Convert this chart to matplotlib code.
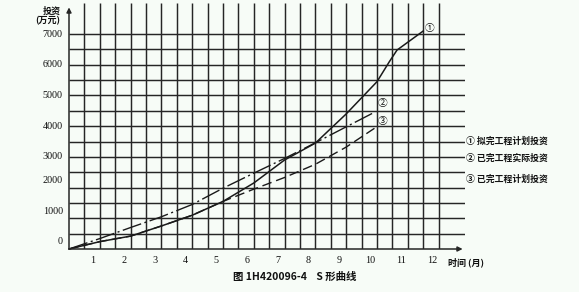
import numpy as np
import matplotlib
matplotlib.use("Agg")
import matplotlib.pyplot as plt

plt.rcParams['font.family'] = ['Noto Sans CJK SC', 'DejaVu Sans']

# ① 拟完工程计划投资
m1 = [0, 1, 2, 3, 4, 5, 6, 7, 8, 9, 10, 10.4, 10.65, 11.5]
v1 = [0, 240, 420, 750, 1100, 1550, 2150, 2900, 3450, 4400, 5450, 6100, 6480, 7100]
# ② 已完工程实际投资
m2 = [0, 1, 2, 3, 4, 5, 6, 7, 8, 9, 9.93]
v2 = [0, 340, 700, 1050, 1450, 1980, 2470, 2950, 3460, 3980, 4460]
# ③ 已完工程计划投资
m3 = [0, 1, 2, 3, 4, 5, 6, 7, 8, 9, 9.93]
v3 = [0, 240, 420, 750, 1100, 1550, 1950, 2330, 2760, 3320, 3940]

y_ticks = [0, 1000, 2000, 3000, 4000, 5000, 6000, 7000]
x_ticks = [1, 2, 3, 4, 5, 6, 7, 8, 9, 10, 11, 12]
legend_txt = ["① 拟完工程计划投资", "② 已完工程实际投资", "③ 已完工程计划投资"]

W, H = 579, 292
fig = plt.figure(figsize=(W / 100, H / 100), dpi=100)
bg = '#f7fcf7'
fig.patch.set_facecolor(bg)

# axes: origin at px (69, 249), 30.8 px per month, 30.7 px per 1000
x0, y0 = 69, 249
xmax, ymax = 12.85, 8000
ax = fig.add_axes([x0 / W, (H - y0) / H, xmax * 30.8 / W, ymax * 30.7 / 1000 / H])
ax.set_xlim(0, xmax)
ax.set_ylim(0, ymax)
ax.set_facecolor(bg)
ax.axis('off')

gc = '#262626'
ax.vlines(np.arange(0.5, 12.01, 0.5), 0, 8000, color=gc, lw=1.05)
ax.hlines(np.arange(500, 7001, 500), 0, xmax, color=gc, lw=1.05)

# axes with arrows
ax.annotate('', xy=(0, 7870), xytext=(0, 0), annotation_clip=False,
            arrowprops=dict(arrowstyle='-|>', lw=1.1, color=gc, mutation_scale=7,
                            shrinkA=0, shrinkB=0))
ax.annotate('', xy=(12.78, 0), xytext=(0, 0), annotation_clip=False,
            arrowprops=dict(arrowstyle='-|>', lw=1.1, color=gc, mutation_scale=7,
                            shrinkA=0, shrinkB=0))

lc = '#1a1a1a'
ax.plot(m3, v3, color=lc, lw=1.0, linestyle=(0, (7, 3.5)), clip_on=False)
ax.plot(m2, v2, color=lc, lw=1.0, linestyle=(0, (14, 2.5, 1.5, 2.5)), clip_on=False)
ax.plot(m1, v1, color=lc, lw=1.1, clip_on=False)

num = ['Liberation Serif', 'DejaVu Serif']
for v in y_ticks:
    yy = v + (230 if v <= 2000 else 0)
    ax.text(-0.2, yy, str(v), ha='right', va='center', fontsize=7.3,
            family=num, color='#111', clip_on=False)
for m in x_ticks:
    ax.text(m - 0.22, -380, str(m), ha='center', va='center', fontsize=7.3,
            family=num, color='#111', clip_on=False)

ax.text(-0.55, 7750, '投资', ha='center', va='center', fontsize=6.5,
        fontweight='bold', color='#111', clip_on=False)
ax.text(-0.68, 7420, '(万元)', ha='center', va='center', fontsize=6.5,
        fontweight='bold', color='#111', clip_on=False)
ax.text(12.3, -420, '时间 (月)', ha='left', va='center', fontsize=6.5,
        fontweight='bold', color='#111', clip_on=False)

# curve labels
ax.text(11.72, 7200, '①', ha='center', va='center', fontsize=7, color='#111', clip_on=False)
ax.text(10.19, 4760, '②', ha='center', va='center', fontsize=7, color='#111', clip_on=False)
ax.text(10.19, 4170, '③', ha='center', va='center', fontsize=7, color='#111', clip_on=False)

for t, yy in zip(legend_txt, [3520, 2960, 2280]):
    ax.text(12.9, yy, t, ha='left', va='center', fontsize=6.4,
            fontweight='bold', color='#111', clip_on=False)

fig.text(295 / W, 1 - 277 / H, '图 1H420096-4    S 形曲线', ha='center', va='center',
         fontsize=7.5, fontweight='bold', color='#111')

fig.savefig('out.png', dpi=100, facecolor=bg)
